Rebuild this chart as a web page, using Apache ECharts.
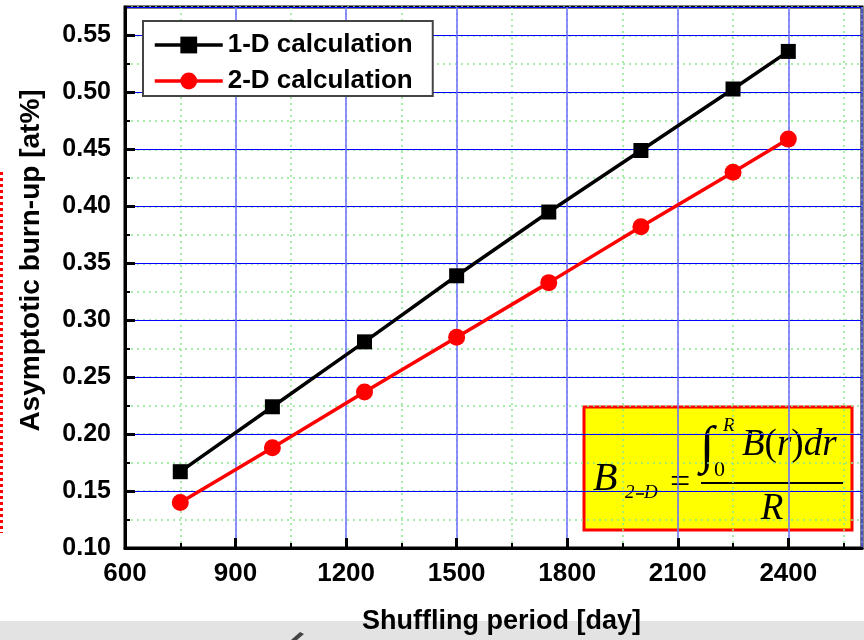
<!DOCTYPE html>
<html>
<head>
<meta charset="utf-8">
<script src="https://cdn.jsdelivr.net/npm/echarts@6/dist/echarts.min.js"></script>
<style>
  html, body { margin: 0; padding: 0; background: #fff; }
  #chart { width: 864px; height: 640px; }
</style>
</head>
<body>
<div id="chart"></div>
<script>
// Shuffling period (days) and asymptotic burn-up (at%)
const periods = [750, 1000, 1250, 1500, 1750, 2000, 2250, 2400];
const burnup1D = [0.167, 0.224, 0.281, 0.339, 0.395, 0.449, 0.503, 0.536];
const burnup2D = [0.140, 0.188, 0.237, 0.285, 0.333, 0.382, 0.430, 0.459];
const seriesNames = ['1-D calculation', '2-D calculation'];

const xMin = 600, xMax = 2600, xStep = 300;
const yMin = 0.10, yMax = 0.575, yStep = 0.05;

const SANS = 'Liberation Sans, Arial, Helvetica, sans-serif';
const SERIF = 'Liberation Serif, Times New Roman, serif';

const chart = echarts.init(document.getElementById('chart'), null, { renderer: 'canvas' });

const pairs = (ys) => periods.map((p, i) => [p, ys[i]]);

const majorX = {
  type: 'value', min: xMin, max: xMax, interval: xStep, position: 'bottom', z: 2,
  axisLine: { show: true, onZero: false, lineStyle: { color: '#000', width: 3 } },
  axisTick: { show: true, inside: true, length: 10, lineStyle: { color: '#000', width: 3 } },
  axisLabel: {
    margin: 13, color: '#000', fontSize: 26, fontWeight: 'bold', fontFamily: SANS,
    showMaxLabel: false,
    formatter: (v) => (v > 2400 ? '' : String(v))
  },
  splitLine: { show: true, lineStyle: { color: '#6a6aff', width: 1.5 } },
  name: 'Shuffling period [day]', nameLocation: 'middle', nameGap: 60,
  nameTextStyle: { color: '#000', fontSize: 27, fontWeight: 'bold', fontFamily: SANS, padding: [0, 0, 0, 16] }
};
const minorX = {
  type: 'value', min: xMin, max: xMax, interval: xStep / 2, position: 'bottom', z: 1,
  axisLine: { show: false },
  axisTick: { show: true, inside: true, length: 5, lineStyle: { color: '#000', width: 2 } },
  axisLabel: { show: false },
  splitLine: { show: true, lineStyle: { color: '#8ee88e', width: 1.5, type: [2, 4] } }
};
const majorY = {
  type: 'value', min: yMin, max: yMax, interval: yStep, position: 'left', z: 2,
  axisLine: { show: true, onZero: false, lineStyle: { color: '#000', width: 3 } },
  axisTick: { show: true, inside: true, length: 10, lineStyle: { color: '#000', width: 3 } },
  axisLabel: {
    margin: 14, color: '#000', fontSize: 25, fontWeight: 'bold', fontFamily: SANS,
    showMaxLabel: false,
    formatter: (v) => (v > 0.56 ? '' : v.toFixed(2))
  },
  splitLine: { show: true, lineStyle: { color: '#0000ff', width: 1 } },
  name: 'Asymptotic burn-up [at%]', nameLocation: 'middle', nameGap: 80, nameRotate: 90,
  nameTextStyle: { color: '#000', fontSize: 28, fontWeight: 'bold', fontFamily: SANS, padding: [0, 0, 0, 34] }
};
const minorY = {
  type: 'value', min: yMin, max: yMax, interval: yStep / 2, position: 'left', z: 1,
  axisLine: { show: false },
  axisTick: { show: true, inside: true, length: 5, lineStyle: { color: '#000', width: 2 } },
  axisLabel: { show: false },
  splitLine: { show: true, lineStyle: { color: '#8ee88e', width: 1.5, type: [2, 4] } }
};

// Integral-average formula drawn in a highlighted box
const box = { x: 584, y: 407, w: 268, h: 123 };
const txt = (text, x, y, font, extra) => ({
  type: 'text',
  style: Object.assign({ text, x, y, font, fill: '#000', verticalAlign: 'middle' }, extra || {})
});
const formula = [
  { type: 'rect', shape: { x: box.x, y: box.y, width: box.w, height: box.h },
    style: { fill: '#ffff00', stroke: '#ff0000', lineWidth: 3 } },
  txt('B', 593, 479, 'italic 40px ' + SERIF),
  txt('2', 625, 493, 'italic 19px ' + SERIF),
  { type: 'line', shape: { x1: 636, y1: 494, x2: 644, y2: 494 }, style: { stroke: '#000', lineWidth: 1.5 } },
  txt('D', 644, 493, 'italic 19px ' + SERIF),
  txt('=', 670, 484, '36px ' + SERIF),
  txt('\u222B', 700, 449, 'bold 52px ' + SERIF),
  txt('R', 723, 426, 'italic 19px ' + SERIF),
  txt('0', 714, 470, '22px ' + SERIF),
  { type: 'text', style: {
      text: '{i|B}{n|(}{i|r}{n|)}{i|dr}', x: 742, y: 445, verticalAlign: 'middle', fill: '#000',
      rich: {
        i: { fontFamily: SERIF, fontStyle: 'italic', fontSize: 37, fill: '#000' },
        n: { fontFamily: SERIF, fontSize: 37, fill: '#000' }
      } } },
  { type: 'line', shape: { x1: 701, y1: 483, x2: 843, y2: 483 }, style: { stroke: '#000', lineWidth: 2 } },
  txt('R', 772, 509, 'italic 37px ' + SERIF, { align: 'center' })
];

// Page furniture around the plot
const furniture = [
  { type: 'rect', z: -10, shape: { x: 0, y: 621, width: 864, height: 19 }, style: { fill: '#e3e3e3' } },
  { type: 'polygon', z: -9, shape: { points: [[291, 640], [300, 632], [304, 634], [297, 640]] }, style: { fill: '#444' } },
  { type: 'line', shape: { x1: 1.5, y1: 172, x2: 1.5, y2: 533 }, style: { stroke: '#ff0000', lineWidth: 3, lineDash: [3, 3] } }
];

chart.setOption({
  animation: false,
  backgroundColor: '#fff',
  grid: {
    left: 125, right: 2, top: 7, bottom: 91, containLabel: false,
    show: true, borderColor: '#000', borderWidth: 3, backgroundColor: 'transparent'
  },
  xAxis: [majorX, minorX],
  yAxis: [majorY, minorY],
  legend: {
    data: seriesNames, orient: 'vertical', left: 143, top: 21,
    backgroundColor: '#fff', borderColor: '#444', borderWidth: 2,
    padding: [11, 5, 2, 10], itemGap: 10, itemWidth: 68, itemHeight: 21,
    lineStyle: { width: 3.5 },
    textStyle: { color: '#000', fontSize: 26, fontWeight: 'bold', fontFamily: SANS, lineHeight: 25, width: 200 }
  },
  series: [
    { name: seriesNames[0], type: 'line', data: pairs(burnup1D), xAxisIndex: 0, yAxisIndex: 0,
      symbol: 'rect', symbolSize: 15, color: '#000',
      lineStyle: { color: '#000', width: 3.5 }, itemStyle: { color: '#000' } },
    { name: seriesNames[1], type: 'line', data: pairs(burnup2D), xAxisIndex: 0, yAxisIndex: 0,
      symbol: 'circle', symbolSize: 17, color: '#ff0000',
      lineStyle: { color: '#ff0000', width: 3.5 }, itemStyle: { color: '#ff0000' } }
  ],
  graphic: furniture.concat(formula)
});
</script>
</body>
</html>
